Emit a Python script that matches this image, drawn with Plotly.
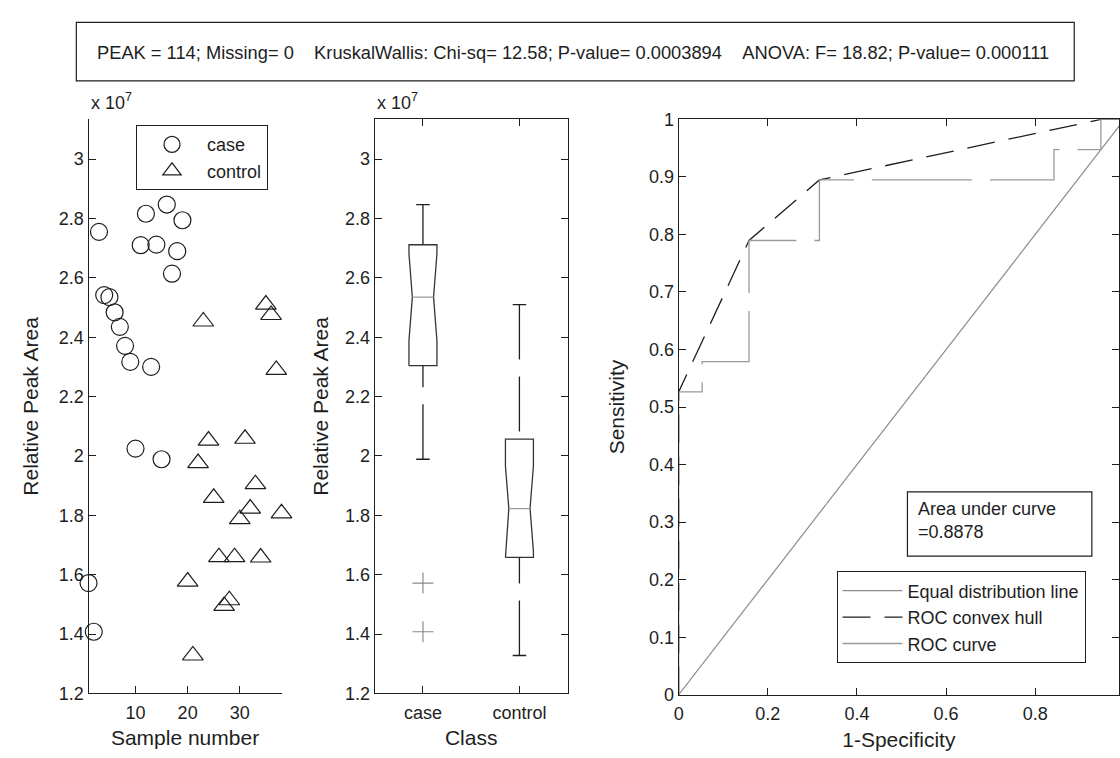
import numpy as np
import plotly.graph_objects as go

W, H = 1120, 758

# ---------------- data (relative peak area, units of 1e7) ----------------
case_sample = list(range(1, 20))
case_area = [1.572, 1.408, 2.755, 2.542, 2.535, 2.484, 2.435, 2.371, 2.317, 2.025,
             2.710, 2.816, 2.300, 2.712, 1.989, 2.847, 2.614, 2.690, 2.794]
control_sample = list(range(20, 39))
control_area = [1.577, 1.328, 1.976, 2.453, 2.052, 1.859, 1.659, 1.495, 1.514, 1.659,
                1.787, 2.058, 1.823, 1.905, 1.658, 2.510, 2.475, 2.290, 1.807]
classes = ["case", "control"]
y_ticks = [1.2, 1.4, 1.6, 1.8, 2.0, 2.2, 2.4, 2.6, 2.8, 3.0]
y_ticktext = ["1.2", "1.4", "1.6", "1.8", "2", "2.2", "2.4", "2.6", "2.8", "3"]
x_ticks = [10, 20, 30]
roc_xticks = [0, 0.2, 0.4, 0.6, 0.8]
roc_xtext = ["0", "0.2", "0.4", "0.6", "0.8"]
roc_yticks = [0, 0.1, 0.2, 0.3, 0.4, 0.5, 0.6, 0.7, 0.8, 0.9, 1.0]
roc_ytext = ["0", "0.1", "0.2", "0.3", "0.4", "0.5", "0.6", "0.7", "0.8", "0.9", "1"]
header_text = ("PEAK = 114; Missing= 0    KruskalWallis: Chi-sq= 12.58; P-value= 0.0003894    "
               "ANOVA: F= 18.82; P-value= 0.000111")

# ---------------- helpers ----------------
def px_x(p):
    return p / W

def px_y(p):
    return 1 - p / H

def prctile(v, p):
    v = np.sort(np.asarray(v, float))
    n = len(v)
    pos = n * p / 100.0 + 0.5
    return float(np.interp(pos, np.arange(1, n + 1), v))

def box_stats(v):
    v = np.sort(np.asarray(v, float))
    q1, med, q3 = prctile(v, 25), prctile(v, 50), prctile(v, 75)
    iqr = q3 - q1
    lo_f, hi_f = q1 - 1.5 * iqr, q3 + 1.5 * iqr
    inside = v[(v >= lo_f) & (v <= hi_f)]
    out = v[(v < lo_f) | (v > hi_f)]
    notch = 1.57 * iqr / np.sqrt(len(v))
    return dict(q1=q1, med=med, q3=q3, wlo=inside.min(), whi=inside.max(),
                out=out, nlo=med - notch, nhi=med + notch)

def roc_points(pos, neg):
    vals = [(v, 1) for v in pos] + [(v, 0) for v in neg]
    vals.sort(key=lambda t: -t[0])
    tp = fp = 0
    xs, ys = [0.0], [0.0]
    for v, lab in vals:
        if lab:
            tp += 1
        else:
            fp += 1
        xs.append(fp / len(neg))
        ys.append(tp / len(pos))
    return xs, ys

def upper_hull(xs, ys):
    pts = sorted(set(zip(xs, ys)))
    hull = []
    for p in pts:
        while len(hull) >= 2:
            (x1, y1), (x2, y2) = hull[-2], hull[-1]
            cross = (x2 - x1) * (p[1] - y1) - (y2 - y1) * (p[0] - x1)
            if cross >= 0:
                hull.pop()
            else:
                break
        hull.append(p)
    return [p[0] for p in hull], [p[1] for p in hull]

INK = "#1e1e1e"
FONT = "Liberation Sans, Arial, sans-serif"

fig = go.Figure()

# ---------------- panel 1: scatter ----------------
fig.add_trace(go.Scatter(
    x=case_sample, y=case_area, mode="markers", name="case",
    marker=dict(symbol="circle-open", size=17, color=INK, line=dict(width=1.2, color=INK)),
    xaxis="x", yaxis="y", legend="legend", cliponaxis=False))
fig.add_trace(go.Scatter(
    x=control_sample, y=control_area, mode="markers", name="control",
    marker=dict(symbol="triangle-up-open", size=18, color=INK, line=dict(width=1.2, color=INK)),
    xaxis="x", yaxis="y", legend="legend", cliponaxis=False))

# ---------------- panel 2: notched boxplot ----------------
BW, NW, CW = 0.145, 0.11, 0.07
for i, (cls, vals) in enumerate(zip(classes, [case_area, control_area])):
    c = i + 1
    s = box_stats(vals)
    bx = [c - BW, c + BW, c + BW, c + NW, c + BW, c + BW, c - BW, c - BW, c - NW, c - BW, c - BW]
    by = [s["q1"], s["q1"], s["nlo"], s["med"], s["nhi"], s["q3"], s["q3"], s["nhi"], s["med"], s["nlo"], s["q1"]]
    fig.add_trace(go.Scatter(x=bx, y=by, mode="lines", line=dict(color="#333333", width=1.3),
                             xaxis="x2", yaxis="y2", showlegend=False, hoverinfo="skip"))
    fig.add_trace(go.Scatter(x=[c - NW, c + NW], y=[s["med"], s["med"]], mode="lines",
                             line=dict(color="#9a9a9a", width=1.2),
                             xaxis="x2", yaxis="y2", showlegend=False))
    fig.add_trace(go.Scatter(x=[c, c], y=[s["whi"], s["q3"]], mode="lines",
                             line=dict(color=INK, width=1.3, dash="55px,17px"),
                             xaxis="x2", yaxis="y2", showlegend=False))
    fig.add_trace(go.Scatter(x=[c, c], y=[s["wlo"], s["q1"]], mode="lines",
                             line=dict(color=INK, width=1.3, dash="55px,17px"),
                             xaxis="x2", yaxis="y2", showlegend=False))
    for w in (s["whi"], s["wlo"]):
        fig.add_trace(go.Scatter(x=[c - CW, c + CW], y=[w, w], mode="lines",
                                 line=dict(color=INK, width=1.3),
                                 xaxis="x2", yaxis="y2", showlegend=False))
    if len(s["out"]):
        fig.add_trace(go.Scatter(x=[c] * len(s["out"]), y=list(s["out"]), mode="markers",
                                 marker=dict(symbol="cross-thin-open", size=15, color="#8a8a8a",
                                             line=dict(width=1.2, color="#8a8a8a")),
                                 xaxis="x2", yaxis="y2", showlegend=False))

# ---------------- panel 3: ROC ----------------
rx, ry = roc_points(case_area, control_area)
hx, hy = upper_hull(rx, ry)
auc = float(np.trapezoid(hy, hx))

fig.add_trace(go.Scatter(x=[0, 1], y=[0, 1], mode="lines", name="Equal distribution line",
                         line=dict(color="#8c8c8c", width=1.2),
                         xaxis="x3", yaxis="y3", legend="legend2"))
fig.add_trace(go.Scatter(x=hx, y=hy, mode="lines", name="ROC convex hull",
                         line=dict(color=INK, width=1.3, dash="28px,14px"),
                         xaxis="x3", yaxis="y3", legend="legend2"))
fig.add_trace(go.Scatter(x=rx, y=ry, mode="lines", name="ROC curve",
                         line=dict(color="#9a9a9a", width=1.3, dash="100px,18px"),
                         xaxis="x3", yaxis="y3", legend="legend2"))

# ---------------- axes ----------------
TOP, BOT = 112.3, 702.0
ydom = [px_y(BOT), px_y(TOP)]
tickfont = dict(family=FONT, size=18, color=INK)
titlefont = dict(family=FONT, size=21, color=INK)
common = dict(showgrid=False, zeroline=False, ticks="inside", ticklen=7, tickwidth=1,
              tickcolor=INK, showline=True, linecolor=INK, linewidth=1.2, tickfont=tickfont)

fig.update_layout(
    xaxis=dict(domain=[px_x(84), px_x(278)], range=[1.0, 38.0], tickvals=x_ticks,
               ticklabelstandoff=3,
               title=dict(text="Sample number", font=titlefont, standoff=8),
               anchor="y", **common),
    yaxis=dict(domain=ydom, range=[1.2, 3.134], tickvals=y_ticks, ticktext=y_ticktext,
               title=dict(text="Relative Peak Area", font=titlefont, standoff=14),
               anchor="x", **common),
    xaxis2=dict(domain=[px_x(371.7), px_x(565.7)], range=[0.5, 2.5], tickvals=[1, 2],
                ticktext=classes, mirror="ticks", ticklabelstandoff=3,
                title=dict(text="Class", font=titlefont, standoff=8),
                anchor="y2", **common),
    yaxis2=dict(domain=ydom, range=[1.2, 3.134], tickvals=y_ticks, ticktext=y_ticktext,
                mirror="ticks",
                title=dict(text="Relative Peak Area", font=titlefont, standoff=10),
                anchor="x2", **common),
    xaxis3=dict(domain=[px_x(677.3), 1.0], range=[0, 0.988], tickvals=roc_xticks,
                ticktext=roc_xtext, mirror="ticks", ticklabelstandoff=3,
                title=dict(text="1-Specificity", font=titlefont, standoff=8),
                anchor="y3", **common),
    yaxis3=dict(domain=[px_y(703.3), px_y(TOP)], range=[0, 1], tickvals=roc_yticks,
                ticktext=roc_ytext, mirror="ticks",
                title=dict(text="Sensitivity", font=titlefont, standoff=18),
                anchor="x3", **common),
)

fig.update_layout(
    width=W, height=H, margin=dict(l=0, r=0, t=0, b=0),
    paper_bgcolor="white", plot_bgcolor="white",
    font=dict(family=FONT, size=18, color=INK),
    legend=dict(x=px_x(131.7), y=px_y(118.3), xanchor="left", yanchor="top",
                bordercolor=INK, borderwidth=1, bgcolor="white",
                font=dict(family=FONT, size=18, color=INK), itemwidth=60),
    legend2=dict(x=px_x(836), y=px_y(576.7), xanchor="left", yanchor="top",
                 bordercolor=INK, borderwidth=1, bgcolor="white",
                 font=dict(family=FONT, size=18, color=INK), itemwidth=60),
)

# header box (frame + text)
fig.add_shape(type="rect", xref="paper", yref="paper",
              x0=px_x(71.7), x1=px_x(1075), y0=px_y(72.7), y1=px_y(12.7),
              line=dict(color=INK, width=1.2), fillcolor="rgba(0,0,0,0)")
fig.add_annotation(x=px_x(90.7), y=px_y(43.3), xref="paper", yref="paper",
                   xanchor="left", yanchor="middle", showarrow=False,
                   text=header_text.replace("    ", "\u00a0\u00a0\u00a0\u00a0"),
                   font=dict(family=FONT, size=18.3, color=INK))
# exponent labels
for xp in (84, 371.7):
    fig.add_annotation(x=px_x(xp), y=px_y(94), xref="paper", yref="paper",
                       xanchor="left", yanchor="middle", showarrow=False,
                       text="x 10<sup>7</sup>", font=dict(family=FONT, size=18, color=INK))
# AUC box (frame + text)
fig.add_shape(type="rect", xref="paper", yref="paper",
              x0=px_x(907.3), x1=px_x(1092.7), y0=px_y(561), y1=px_y(495),
              line=dict(color=INK, width=1.2), fillcolor="white", layer="above")
fig.add_annotation(x=px_x(916), y=px_y(524), xref="paper", yref="paper",
                   xanchor="left", yanchor="middle", showarrow=False, align="left",
                   text="Area under curve<br>=%.4f" % auc,
                   font=dict(family=FONT, size=18, color=INK))

fig.write_html("out.html")
